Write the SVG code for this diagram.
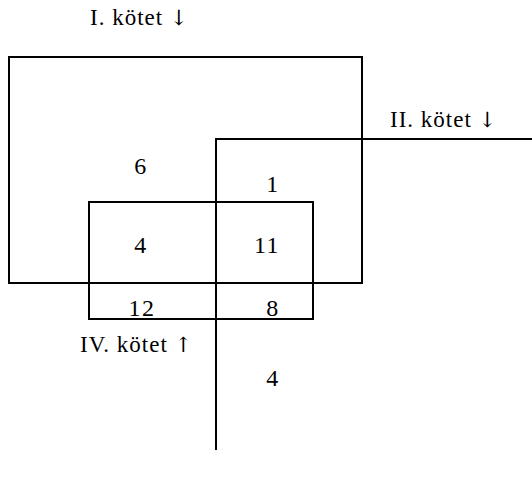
<svg xmlns="http://www.w3.org/2000/svg" width="532" height="477" viewBox="0 0 532 477">
<style>
.ln{fill:none;stroke:#000;stroke-width:2}
.t{font-family:"Liberation Serif","Times New Roman",serif;font-size:23px;fill:#000;letter-spacing:1px}
.a{font-family:"DejaVu Serif",serif;font-size:21px;fill:#000}
.n{font-family:"Liberation Serif","Times New Roman",serif;font-size:24px;fill:#000;text-anchor:middle;letter-spacing:1.5px}
</style>
<rect width="532" height="477" fill="#fff"/>
<g id="connectors">
<path class="ln" d="M216,450 V139 H532"/>
</g>
<g id="kotet1">
<rect class="ln" x="9" y="57" width="353" height="226"/>
<text class="t" x="90" y="25">I. kötet <tspan class="a">↓</tspan></text>
</g>
<g id="kotet2">
<text class="t" x="390" y="127">II. kötet <tspan class="a">↓</tspan></text>
</g>
<g id="kotet4">
<rect class="ln" x="89" y="202" width="224" height="117"/>
<text class="t" x="80" y="352">IV. kötet <tspan class="a">↑</tspan></text>
</g>
<g id="numbers">
<text class="n" x="141" y="174">6</text>
<text class="n" x="273" y="192">1</text>
<text class="n" x="141" y="253">4</text>
<text class="n" x="267" y="253">11</text>
<text class="n" x="142" y="316">12</text>
<text class="n" x="273" y="316">8</text>
<text class="n" x="273" y="386">4</text>
</g>
</svg>
